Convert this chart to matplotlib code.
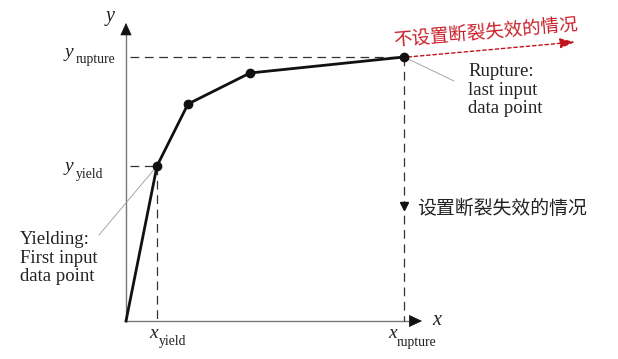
import matplotlib
matplotlib.use("Agg")
import matplotlib.pyplot as plt

plt.rcParams['font.family'] = ['Liberation Serif', 'DejaVu Serif']

# Stress-strain input points (arbitrary units), first point is origin
strain = [0, 31, 62, 124, 278]
stress = [0, 155, 217, 248, 264]
x_axis_end = 296
y_axis_end = 298

zh_font = ['Noto Sans CJK SC', 'DejaVu Sans']
label_no_rupture = "不设置断裂失效的情况"
label_rupture = "设置断裂失效的情况"

fig = plt.figure(figsize=(6.18, 3.59), dpi=100)
ax = fig.add_axes([0, 0, 1, 1])
ax.set_xlim(-126, 492)
ax.set_ylim(-38, 321)
ax.axis('off')

axis_col = '#777777'
head_col = '#111111'
ax.plot([0, x_axis_end - 8], [0, 0], color=axis_col, lw=1.0)
ax.plot([0, 0], [0, y_axis_end - 8], color=axis_col, lw=1.0)
ax.annotate('', xy=(x_axis_end, 0), xytext=(x_axis_end - 12, 0),
            arrowprops=dict(arrowstyle='-|>,head_length=0.85,head_width=0.4',
                            color=head_col, lw=0.5, shrinkA=0, shrinkB=0, mutation_scale=10))
ax.annotate('', xy=(0, y_axis_end), xytext=(0, y_axis_end - 11),
            arrowprops=dict(arrowstyle='-|>,head_length=0.8,head_width=0.37',
                            color=head_col, lw=0.5, shrinkA=0, shrinkB=0, mutation_scale=10))

xy_, yy_ = strain[1], stress[1]
xr_, yr_ = strain[-1], stress[-1]
dash_kw = dict(color='#333333', lw=0.9, dashes=(7, 4.5))
ax.plot([4, xy_], [yy_, yy_], **dash_kw)
ax.plot([xy_, xy_], [yy_, 0], **dash_kw)
ax.plot([4, xr_], [yr_, yr_], **dash_kw)
ax.plot([xr_, xr_], [yr_, 0], **dash_kw)

ax.plot(strain, stress, color='#111111', lw=2.0, zorder=5)
ax.plot(strain[1:], stress[1:], 'o', color='#111111', ms=6, zorder=6)

# leader lines
ax.plot([xy_, -27], [yy_, 86], color='#999999', lw=0.6)
ax.plot([xr_, 328], [yr_, 240], color='#999999', lw=0.6)

# red dotted arrow (no rupture)
ax.annotate('', xy=(449, 279), xytext=(xr_ + 4, yr_),
            arrowprops=dict(arrowstyle='-|>,head_length=0.9,head_width=0.3',
                            color='#c0141e', lw=1.0, ls=(0, (2.5, 2)), shrinkA=0, shrinkB=0,
                            mutation_scale=10))
ax.text(360, 288, label_no_rupture, family=zh_font, fontsize=13.3, color='#c8202a',
        rotation=5, ha='center', va='center', rotation_mode='anchor')

# black down arrow (rupture)
ax.plot([xr_], [115], marker='v', color='#111111', ms=5.5)
ax.text(291, 113, label_rupture, family=zh_font, fontsize=13.6, color='#222222',
        ha='left', va='center')

# annotations
ax.text(342, 258, "Rupture:\nlast input\ndata point", fontsize=13.5, color='#222222',
        ha='left', va='top', linespacing=1.12)
ax.text(-106, 90, "Yielding:\nFirst input\ndata point", fontsize=13.5, color='#222222',
        ha='left', va='top', linespacing=1.12)

# axis labels
ax.text(306, -4, 'x', fontsize=14.5, style='italic', color='#222222', ha='left', va='baseline')
ax.text(-20, 300, 'y', fontsize=14.5, style='italic', color='#222222', ha='left', va='baseline')


def sym_label(x, y, main, sub, sx, sy):
    ax.text(x, y, main, fontsize=14, style='italic', color='#222222', ha='left', va='baseline')
    ax.text(x + sx, y - sy, sub, fontsize=9.8, color='#222222', ha='left', va='baseline')


sym_label(-61, 264, 'y', 'rupture', 11, 6)
sym_label(-61, 150, 'y', 'yield', 11, 7)
sym_label(23, -17, 'x', 'yield', 10, 7)
sym_label(262, -17, 'x', 'rupture', 9, 8)

fig.savefig('out.png', dpi=100)
